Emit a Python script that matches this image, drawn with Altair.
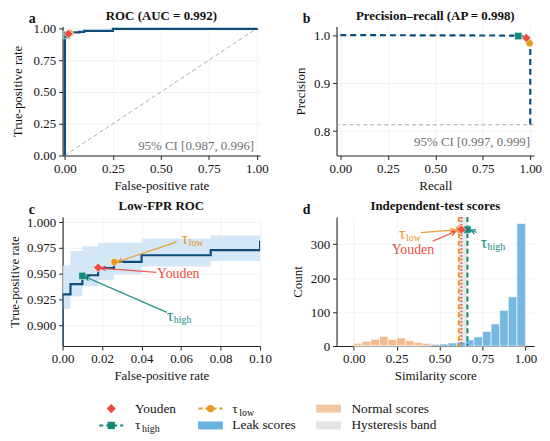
import math
import altair as alt
import pandas as pd

FONT = "Liberation Serif"
RED, TEAL, ORANGE, NAVY = "#EE4B3E", "#12897B", "#E8961E", "#0E4C7A"
BLUE, PEACH, BAND, HYST, GREY = "#6AB2DF", "#F3C7A2", "#CFE4F6", "#E4E4E4", "#A9A9A9"
W, H = 199, 130

# ---------------- data ----------------
titles = ["ROC (AUC = 0.992)", "Precision\u2013recall (AP = 0.998)", "Low-FPR ROC", "Independent-test scores"]
letters = ["a", "b", "c", "d"]
ci_texts = ["95% CI [0.987, 0.996]", "95% CI [0.997, 0.999]"]

roc_fpr = [0.0, 0.0, 0.004, 0.010, 0.0125, 0.018, 0.026, 0.040, 0.075, 0.100, 0.250, 1.000]
roc_tpr = [0.0, 0.930, 0.940, 0.9457, 0.9486, 0.9555, 0.9615, 0.968, 0.973, 0.981, 0.996, 1.000]
chance_x = [0.0, 1.0]
chance_y = [0.0, 1.0]

pr_recall = [0.0, 0.94, 0.965, 0.979, 0.990, 0.996, 1.000, 1.000]
pr_precision = [1.0, 0.999, 0.997, 0.994, 0.989, 0.983, 0.975, 0.813]
pr_baseline = [0.813]

band_fpr = [0.0, 0.004, 0.010, 0.018, 0.026, 0.040, 0.075, 0.100]
band_lo = [0.916, 0.928, 0.938, 0.944, 0.9495, 0.957, 0.9625, 0.9625]
band_hi = [0.958, 0.972, 0.9767, 0.980, 0.980, 0.984, 0.987, 0.987]

op_shape = ["square", "circle", "diamond"]
op_color = [TEAL, ORANGE, RED]
op_size = [55, 55, 85]
op_fpr = [0.010, 0.0262, 0.018]
op_tpr = [0.948, 0.9615, 0.956]
op_recall = [0.937, 0.996, 0.979]
op_precision = [0.998, 0.983, 0.994]
op_threshold = [0.662, 0.612, 0.627]
op_marker_count = [343, 343, 343]
thr_dash = [[5, 3], [5, 3], [1.5, 2]]

bin_start = [0.00, 0.05, 0.10, 0.15, 0.20, 0.25, 0.30, 0.35, 0.40, 0.45,
             0.50, 0.55, 0.60, 0.65, 0.70, 0.75, 0.80, 0.85, 0.90, 0.95]
bin_end = [0.05, 0.10, 0.15, 0.20, 0.25, 0.30, 0.35, 0.40, 0.45, 0.50,
           0.55, 0.60, 0.65, 0.70, 0.75, 0.80, 0.85, 0.90, 0.95, 1.00]
normal_counts = [8, 14, 20, 28, 19, 24, 16, 11, 8, 6, 3, 2, 1, 0, 0, 0, 0, 0, 0, 0]
leak_counts = [0, 0, 0, 0, 0, 0, 0, 0, 1, 4, 6, 9, 12, 18, 27, 43, 65, 105, 145, 361]

# annotations (panel c, data coords)
c_ann_text = ["\u03c4", "Youden", "\u03c4"]
c_ann_sub = ["low", "", "high"]
c_ann_color = [ORANGE, RED, TEAL]
c_ann_x = [0.0603, 0.0478, 0.0528]
c_ann_y = [0.9836, 0.9495, 0.9095]
c_arr_x0 = [0.0578, 0.0475, 0.0528]
c_arr_y0 = [0.9810, 0.9514, 0.9126]
c_arr_x1 = [0.0280, 0.0195, 0.0115]
c_arr_y1 = [0.9617, 0.9555, 0.9470]

# annotations (panel d, data coords)
d_ann_text = ["\u03c4", "Youden", "\u03c4"]
d_ann_sub = ["low", "", "high"]
d_ann_color = [ORANGE, RED, TEAL]
d_ann_x = [0.264, 0.221, 0.739]
d_ann_y = [331, 282, 304]
d_arr_x0 = [0.390, 0.460, 0.716]
d_arr_y0 = [334, 309, 335]
d_arr_x1 = [0.590, 0.592, 0.683]
d_arr_y1 = [342, 337, 341]

legend_labels = ["Youden", "\u03c4", "\u03c4", "Leak scores", "Normal scores", "Hysteresis band"]
legend_subs = ["", "high", "low", "", "", ""]
legend_col = [0, 0, 1, 1, 2, 2]
legend_row = [0, 1, 0, 1, 0, 1]
legend_kind = ["diamond", "square", "circle", "rect", "rect", "rect"]
legend_color = [RED, TEAL, ORANGE, BLUE, PEACH, HYST]

# ---------------- helpers ----------------
def sc(dom):
    return alt.Scale(domain=dom, nice=False, zero=False)

def X(field, dom, vals, fmt, title):
    return alt.X(f"{field}:Q", scale=sc(dom),
                 axis=alt.Axis(values=vals, format=fmt, title=title, titlePadding=4))

def Y(field, dom, vals, fmt, title, tp):
    return alt.Y(f"{field}:Q", scale=sc(dom),
                 axis=alt.Axis(values=vals, format=fmt, title=title, titlePadding=tp))

def heading(ch, t):
    df = pd.DataFrame({"t": [ch], "title": [t]})
    return [
        alt.Chart(df).mark_text(font=FONT, fontSize=14, fontWeight="bold", align="left",
                                baseline="middle", color="#111").encode(
            x=alt.value(-34), y=alt.value(-7), text="t:N"),
        alt.Chart(df).mark_text(font=FONT, fontSize=13, fontWeight="bold", align="center",
                                baseline="middle", color="#111").encode(
            x=alt.value(W / 2), y=alt.value(-11), text="title:N"),
    ]

def head_angle(x0, y0, x1, y1, xr, yr):
    dx = (x1 - x0) / xr * W
    dy = (y1 - y0) / yr * H
    return math.degrees(math.atan2(dx, dy)) % 360

ARROW = "M -0.75 1.4 L 0 0 L 0.75 1.4"

ops = pd.DataFrame({"fpr": op_fpr, "tpr": op_tpr, "rec": op_recall, "prec": op_precision,
                    "thr": op_threshold, "cnt": op_marker_count,
                    "shape": op_shape, "color": op_color, "size": op_size})

def op_points(xenc, yenc, rows=None):
    df = ops if rows is None else ops.iloc[rows]
    return alt.Chart(df).mark_point(filled=True, opacity=1, stroke="white", strokeWidth=0.6).encode(
        x=xenc, y=yenc,
        shape=alt.Shape("shape:N", scale=None),
        color=alt.Color("color:N", scale=None),
        size=alt.Size("size:Q", scale=None),
    )

# ---------------- panel a ----------------
ax_a = lambda f: X(f, [-0.012, 1.017], [0, 0.25, 0.5, 0.75, 1.0], ".2f", "False-positive rate")
ay_a = lambda f: Y(f, [0, 1.015], [0, 0.25, 0.5, 0.75, 1.0], ".2f", "True-positive rate", 9)

roc_df = pd.DataFrame({"fpr": roc_fpr, "tpr": roc_tpr})
a = alt.layer(
    alt.Chart(pd.DataFrame({"fpr": chance_x, "tpr": chance_y})).mark_line(
        color=GREY, strokeDash=[4, 3], strokeWidth=1).encode(x=ax_a("fpr"), y=ay_a("tpr")),
    alt.Chart(roc_df).mark_line(interpolate="step-after", color=NAVY, strokeWidth=2.2).encode(
        x=ax_a("fpr"), y=ay_a("tpr")),
    op_points(ax_a("fpr"), ay_a("tpr")),
    alt.Chart(pd.DataFrame({"t": [ci_texts[0]]})).mark_text(
        font=FONT, fontSize=13, align="right", baseline="middle", color="#707070").encode(
        x=alt.value(W - 6), y=alt.value(H - 10), text="t:N"),
    *heading(letters[0], titles[0]),
).properties(width=W, height=H)

# ---------------- panel b ----------------
ax_b = lambda f: X(f, [-0.02, 1.02], [0, 0.25, 0.5, 0.75, 1.0], ".2f", "Recall")
ay_b = lambda f: Y(f, [0.749, 1.018], [0.8, 0.9, 1.0], ".1f", "Precision", 6)

b = alt.layer(
    alt.Chart(pd.DataFrame({"prec": pr_baseline})).mark_rule(
        color=GREY, strokeDash=[4, 3], strokeWidth=1.1).encode(y=ay_b("prec")),
    alt.Chart(pd.DataFrame({"rec": pr_recall, "prec": pr_precision})).mark_line(
        color=NAVY, strokeDash=[6, 4], strokeWidth=2.2).encode(x=ax_b("rec"), y=ay_b("prec")),
    op_points(ax_b("rec"), ay_b("prec")),
    alt.Chart(pd.DataFrame({"t": [ci_texts[1]]})).mark_text(
        font=FONT, fontSize=13, align="right", baseline="middle", color="#707070").encode(
        x=alt.value(W - 4), y=alt.value(H - 14), text="t:N"),
    *heading(letters[1], titles[1]),
).properties(width=W, height=H)

# ---------------- panel c ----------------
C_X = [0.0, 0.1]
C_Y = [0.88, 1.005]
ax_c = lambda f: X(f, C_X, [0, 0.02, 0.04, 0.06, 0.08, 0.10], ".2f", "False-positive rate")
ay_c = lambda f: Y(f, C_Y, [0.9, 0.925, 0.95, 0.975, 1.0], ".3f", "True-positive rate", 5)

c_arr = pd.DataFrame({"x0": c_arr_x0, "y0": c_arr_y0, "x1": c_arr_x1, "y1": c_arr_y1, "color": c_ann_color})
c_arr["ang"] = [head_angle(r.x0, r.y0, r.x1, r.y1, C_X[1] - C_X[0], C_Y[1] - C_Y[0]) for r in c_arr.itertuples()]
c_txt = pd.DataFrame({"x": c_ann_x, "y": c_ann_y, "t": c_ann_text, "s": c_ann_sub, "color": c_ann_color})

def ann_layers(arr, txt, axf, ayf):
    return [
        alt.Chart(arr).mark_rule(strokeWidth=1.2, opacity=0.9).encode(
            x=axf("x0"), y=ayf("y0"), x2="x1:Q", y2="y1:Q", color=alt.Color("color:N", scale=None)),
        alt.Chart(arr).mark_point(shape=ARROW, filled=False, strokeWidth=1.2, size=40, opacity=1).encode(
            x=axf("x1"), y=ayf("y1"), angle=alt.Angle("ang:Q", scale=None),
            color=alt.Color("color:N", scale=None)),
        alt.Chart(txt).transform_filter("datum.t == '\u03c4'").mark_text(
            font=FONT, fontSize=16, align="left", baseline="middle").encode(
            x=axf("x"), y=ayf("y"), text="t:N", color=alt.Color("color:N", scale=None)),
        alt.Chart(txt).transform_filter("datum.t != '\u03c4'").mark_text(
            font=FONT, fontSize=14, align="left", baseline="middle").encode(
            x=axf("x"), y=ayf("y"), text="t:N", color=alt.Color("color:N", scale=None)),
        alt.Chart(txt).mark_text(font=FONT, fontSize=10, align="left", baseline="middle", dx=7, dy=4).encode(
            x=axf("x"), y=ayf("y"), text="s:N", color=alt.Color("color:N", scale=None)),
    ]

c = alt.layer(
    alt.Chart(pd.DataFrame({"fpr": band_fpr, "lo": band_lo, "hi": band_hi})).mark_area(
        interpolate="step-after", color=BAND, opacity=0.9, clip=True).encode(
        x=ax_c("fpr"), y=ay_c("lo"), y2="hi:Q"),
    alt.Chart(roc_df).mark_line(interpolate="step-after", color=NAVY, strokeWidth=2.2, clip=True).encode(
        x=ax_c("fpr"), y=ay_c("tpr")),
    op_points(ax_c("fpr"), ay_c("tpr")),
    *ann_layers(c_arr, c_txt, ax_c, ay_c),
    *heading(letters[2], titles[2]),
).properties(width=W, height=H)

# ---------------- panel d ----------------
D_X = [-0.1, 1.05]
D_Y = [0, 380]
ax_d = lambda f: X(f, D_X, [0, 0.25, 0.5, 0.75, 1.0], ".2f", "Similarity score")
ay_d = lambda f: Y(f, D_Y, [0, 100, 200, 300], "d", "Count", 6)

hist = pd.DataFrame({"b0": bin_start, "b1": bin_end, "normal": normal_counts, "leak": leak_counts})
d_arr = pd.DataFrame({"x0": d_arr_x0, "y0": d_arr_y0, "x1": d_arr_x1, "y1": d_arr_y1, "color": d_ann_color})
d_arr["ang"] = [head_angle(r.x0, r.y0, r.x1, r.y1, D_X[1] - D_X[0], D_Y[1] - D_Y[0]) for r in d_arr.itertuples()]
d_txt = pd.DataFrame({"x": d_ann_x, "y": d_ann_y, "t": d_ann_text, "s": d_ann_sub, "color": d_ann_color})

thr_layers = []
for i in [1, 2, 0]:
    thr_layers.append(
        alt.Chart(pd.DataFrame({"thr": [op_threshold[i]]})).mark_rule(
            color=op_color[i], strokeDash=thr_dash[i], strokeWidth=2).encode(x=ax_d("thr")))

d = alt.layer(
    alt.Chart(pd.DataFrame({"lo": [op_threshold[1]], "hi": [op_threshold[0]]})).mark_rect(
        color=HYST, opacity=0.8).encode(x=ax_d("lo"), x2="hi:Q", y=alt.value(0), y2=alt.value(H)),
    alt.Chart(hist).mark_rect(color="#EDA56A", opacity=0.75, stroke="white", strokeWidth=0.6).encode(
        x=ax_d("b0"), x2="b1:Q", y=ay_d("normal"), y2=alt.datum(0)),
    alt.Chart(hist).mark_rect(color=BLUE, opacity=0.92, stroke="white", strokeWidth=0.6).encode(
        x=ax_d("b0"), x2="b1:Q", y=ay_d("leak"), y2=alt.datum(0)),
    *thr_layers,
    op_points(ax_d("thr"), ay_d("cnt"), rows=[1, 0, 2]),
    *ann_layers(d_arr, d_txt, ax_d, ay_d),
    *heading(letters[3], titles[3]),
).properties(width=W, height=H)

# ---------------- legend ----------------
HANDLE_CX = [49, 149, 268]
TEXT_X = [73, 171, 291]
ROW_Y = [1, 18]
leg = pd.DataFrame({"label": legend_labels, "sub": legend_subs, "col": legend_col,
                    "row": legend_row, "kind": legend_kind, "color": legend_color})
leg["cx"] = [HANDLE_CX[c_] for c_ in leg["col"]]
leg["tx"] = [TEXT_X[c_] for c_ in leg["col"]]
leg["py"] = [ROW_Y[r_] for r_ in leg["row"]]
leg["l0"] = leg["cx"] - 12
leg["l1"] = leg["cx"] + 12
leg["r0"] = leg["cx"] - 12.5
leg["r1"] = leg["cx"] + 12.5
leg["t0"] = leg["py"] - 4
leg["t1"] = leg["py"] + 4
leg["size"] = [85 if k == "diamond" else 55 for k in leg["kind"]]

px = lambda f: alt.X(f"{f}:Q", scale=None, axis=None)
py = lambda f: alt.Y(f"{f}:Q", scale=None, axis=None)
lines_df = leg[leg["kind"].isin(["square", "circle"])]
sym_df = leg[leg["kind"] != "rect"]
rect_df = leg[leg["kind"] == "rect"]

legend = alt.layer(
    alt.Chart(lines_df).mark_rule(strokeDash=[4, 3], strokeWidth=2).encode(
        x=px("l0"), x2="l1:Q", y=py("py"), color=alt.Color("color:N", scale=None)),
    alt.Chart(sym_df).mark_point(filled=True, opacity=1).encode(
        x=px("cx"), y=py("py"), shape=alt.Shape("kind:N", scale=None),
        color=alt.Color("color:N", scale=None), size=alt.Size("size:Q", scale=None)),
    alt.Chart(rect_df).mark_rect().encode(
        x=px("r0"), x2="r1:Q", y=py("t0"), y2="t1:Q", color=alt.Color("color:N", scale=None)),
    alt.Chart(leg).mark_text(font=FONT, fontSize=13.5, align="left", baseline="middle", color="#111").encode(
        x=px("tx"), y=py("py"), text="label:N"),
    alt.Chart(leg).mark_text(font=FONT, fontSize=10, align="left", baseline="middle", dx=7, dy=4,
                             color="#111").encode(x=px("tx"), y=py("py"), text="sub:N"),
).properties(width=W, height=18)

chart = alt.concat(
    a, b, c, d, legend,
    columns=2, spacing={"row": 62, "column": 77}, bounds="flush",
).properties(padding=0, background="white").configure_view(stroke=None).configure_axis(
    labelFont=FONT, labelFontSize=13, labelColor="#111", labelFlush=False, labelOverlap=False,
    titleFont=FONT, titleFontSize=13, titleFontWeight="normal", titleColor="#111",
    domainColor="#222", domainWidth=1.1, tickColor="#222", tickSize=4, labelPadding=3,
    grid=True, gridColor="#ECECEC", gridWidth=0.7,
)

chart.save("out.html", embed_options={"renderer": "svg", "actions": False})
